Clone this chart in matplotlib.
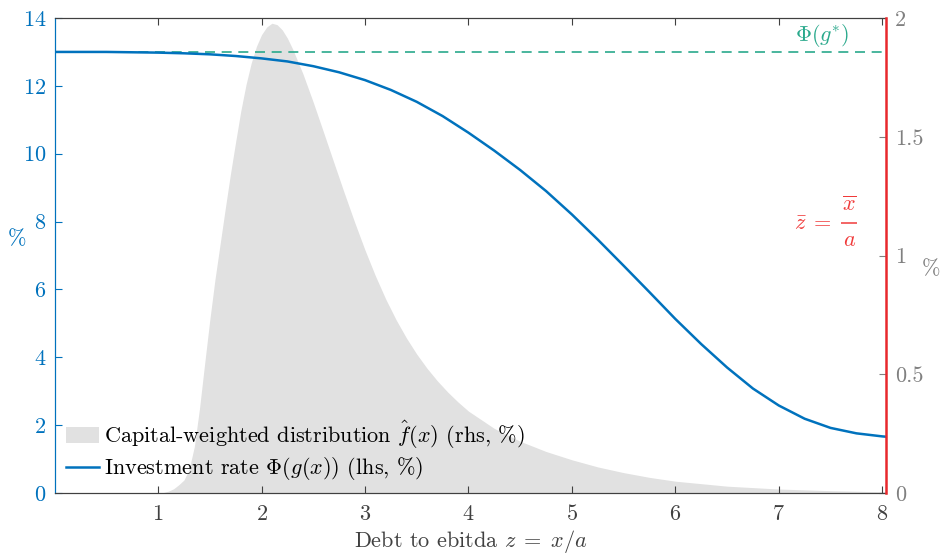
import matplotlib
matplotlib.use("Agg")
import matplotlib.pyplot as plt
from matplotlib.patches import Patch
from matplotlib.lines import Line2D

plt.rcParams['font.family'] = 'serif'
plt.rcParams['font.serif'] = ['cmr10']
plt.rcParams['mathtext.fontset'] = 'cm'
plt.rcParams['axes.formatter.use_mathtext'] = True
plt.rcParams['font.size'] = 16

# Investment rate Phi(g(x)), lhs (%)
z_inv = [0.0, 0.5, 1.0, 1.25, 1.5, 1.75, 2.0, 2.25, 2.5, 2.75, 3.0, 3.25, 3.5,
         3.75, 4.0, 4.25, 4.5, 4.75, 5.0, 5.25, 5.5, 5.75, 6.0, 6.25, 6.5,
         6.75, 7.0, 7.25, 7.5, 7.75, 8.0, 8.04]
inv_rate = [13.00, 13.00, 12.98, 12.96, 12.93, 12.88, 12.81, 12.72, 12.58,
            12.40, 12.17, 11.88, 11.53, 11.11, 10.62, 10.09, 9.52, 8.90, 8.21,
            7.47, 6.70, 5.92, 5.13, 4.39, 3.70, 3.08, 2.58, 2.19, 1.92, 1.76,
            1.67, 1.66]

# Capital-weighted distribution f_hat(x), rhs (%)
z_dist = [0.0, 1.0, 1.05, 1.1, 1.15, 1.2, 1.25, 1.3, 1.35, 1.4, 1.45, 1.5,
          1.55, 1.6, 1.65, 1.7, 1.75, 1.8, 1.85, 1.9, 1.95, 2.0, 2.05, 2.1,
          2.15, 2.2, 2.25, 2.3, 2.4, 2.5, 2.6, 2.7, 2.8, 2.9, 3.0, 3.1, 3.2,
          3.3, 3.4, 3.5, 3.6, 3.7, 3.8, 3.9, 4.0, 4.25, 4.5, 4.75, 5.0, 5.25,
          5.5, 5.75, 6.0, 6.5, 7.0, 7.5, 8.04]
dist = [0.0, 0.0, 0.002, 0.008, 0.018, 0.035, 0.055, 0.10, 0.195, 0.355,
        0.545, 0.73, 0.90, 1.05, 1.20, 1.345, 1.48, 1.61, 1.72, 1.81, 1.88,
        1.93, 1.962, 1.978, 1.972, 1.95, 1.915, 1.87, 1.765, 1.645, 1.518,
        1.39, 1.263, 1.14, 1.023, 0.915, 0.817, 0.73, 0.653, 0.585, 0.525,
        0.472, 0.425, 0.383, 0.345, 0.272, 0.218, 0.175, 0.14, 0.11, 0.086,
        0.066, 0.05, 0.029, 0.017, 0.010, 0.005]

phi_star = 13.0
z_bar = 8.04

blue = '#0072BD'
teal = '#2aa98c'
red = '#e8282c'
red_txt = '#f03a3a'
grey_ax = '#808080'
dark = '#404040'
fill_c = '#e1e1e1'

fig = plt.figure(figsize=(9.42, 5.54), dpi=100)
ax1 = fig.add_axes([0.058, 0.110, 0.883, 0.8575])
ax2 = ax1.twinx()

# fill on the rhs axis, kept behind the lhs curves
ax2.fill_between(z_dist, dist, color=fill_c, lw=0)
ax2.set_ylim(0, 2)
ax2.set_yticks([0, 0.5, 1, 1.5, 2])
ax2.set_yticklabels(['0', '0.5', '1', '1.5', '2'])
ax2.tick_params(axis='y', direction='in', colors=grey_ax, length=5, pad=6)
ax2.set_ylabel('%', color=grey_ax, rotation=0, va='center', ha='center')
ax2.yaxis.set_label_coords(1.0535, 0.47)

ax1.set_zorder(ax2.get_zorder() + 1)
ax1.patch.set_visible(False)

ax1.axhline(phi_star, color=teal, lw=1.2, ls=(0, (6, 4)))
ax1.plot(z_inv, inv_rate, color=blue, lw=1.8)
ax1.axvline(z_bar, color=red, lw=1.8, clip_on=False, zorder=5)
ax1.set_xlim(0, z_bar)
ax1.set_ylim(0, 14)
ax1.set_xticks([1, 2, 3, 4, 5, 6, 7, 8])
ax1.set_yticks(range(0, 15, 2))
ax1.tick_params(axis='x', direction='in', top=True, colors=dark, length=5, pad=8)
ax1.tick_params(axis='y', direction='in', colors=blue, length=5, pad=6)
ax1.set_ylabel('%', color=blue, rotation=0, va='center', ha='center')
ax1.yaxis.set_label_coords(-0.045, 0.535)
ax1.set_xlabel(r'Debt to ebitda $z\;=\;x/a$', color=dark, labelpad=3)

for a in (ax1, ax2):
    a.spines['top'].set_color(dark)
    a.spines['bottom'].set_color(dark)
    a.spines['left'].set_color(blue)
    a.spines['right'].set_visible(False)

ax1.text(7.42, 13.47, r'$\Phi(g^{*})$', color=teal, ha='center', va='center')

# zbar = xbar / a, fraction set by hand for wider spacing
frac_x, frac_y = 7.68, 7.96
ax1.text(7.51, 7.75, r'$\bar{z}\;=$', color=red_txt, ha='right', va='baseline')
ax1.text(frac_x, frac_y + 0.22, r'$\overline{x}$', color=red_txt,
         ha='center', va='bottom')
ax1.text(frac_x, frac_y - 0.22, r'$a$', color=red_txt, ha='center', va='top')
ax1.plot([frac_x - 0.075, frac_x + 0.075], [frac_y, frac_y], color=red_txt,
         lw=1.1, solid_capstyle='butt')

handles = [Patch(facecolor=fill_c, edgecolor='none'),
           Line2D([], [], color=blue, lw=1.8)]
labels = [r'Capital-weighted distribution $\hat{f}(x)$ (rhs, %)',
          r'Investment rate $\Phi(g(x))$ (lhs, %)']
ax1.legend(handles, labels, loc='lower left', frameon=False,
           handlelength=1.5, handletextpad=0.2, labelspacing=0.2,
           borderaxespad=0.4, bbox_to_anchor=(-0.008, -0.015))

fig.savefig('out.png', dpi=100)
